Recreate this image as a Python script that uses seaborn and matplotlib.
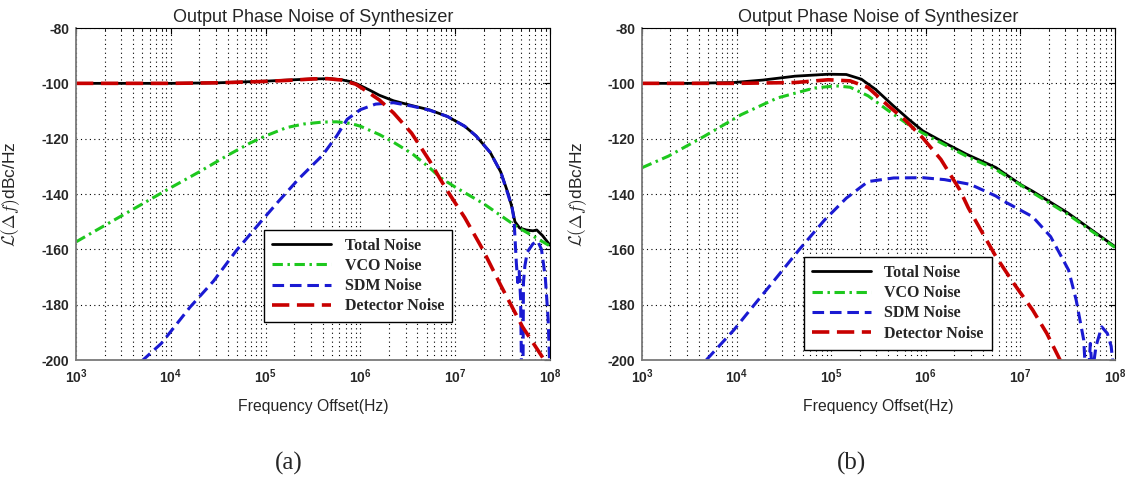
import numpy as np
import matplotlib
matplotlib.use("Agg")
import matplotlib.pyplot as plt
import seaborn as sns
from matplotlib.ticker import FixedLocator, FixedFormatter, LogLocator, NullFormatter

# ==========================================================
#   DATA, x given as log10(offset/Hz)
# ==========================================================
# ---- panel (a) ----
A_TOTAL_LOGF = [3.0, 4.0, 4.5, 5.0, 5.3, 5.5, 5.67, 5.8, 5.9, 5.97, 6.1, 6.2, 6.35, 6.54,
                6.73, 6.92, 7.1, 7.22, 7.37, 7.48, 7.56, 7.6, 7.63, 7.68, 7.75, 7.82,
                7.86, 7.92, 8.0]
A_TOTAL_DB = [-100, -100, -99.8, -99.2, -98.7, -98.4, -98.3, -98.7, -99.4, -100.3, -102.5,
              -104.3, -106.3, -108, -109.6, -112, -115.5, -119, -125, -132, -140, -145,
              -150, -152.3, -153, -153.3, -153, -155, -158.5]

A_VCO_LOGF = [3.0, 3.5, 3.78, 4.0, 4.31, 4.6, 4.84, 5.0, 5.22, 5.4, 5.6, 5.75, 5.9, 6.0,
              6.2, 6.35, 6.55, 6.73, 6.84, 7.0, 7.3, 7.65, 8.0]
A_VCO_DB = [-157.3, -147.5, -142, -137.7, -131.8, -126, -121.5, -119, -116, -114.7, -114,
            -113.9, -114.5, -115.5, -118.5, -121.3, -125.5, -130.5, -134, -137.5, -143.5,
            -151.8, -158.8]

A_SDM_LOGF = [3.69, 3.9, 4.2, 4.45, 4.69, 4.95, 5.14, 5.35, 5.6, 5.75, 5.86, 6.0, 6.16,
              6.35, 6.54, 6.73, 6.92, 7.1, 7.22, 7.37, 7.48, 7.56, 7.6, 7.62, 7.645, 7.66,
              7.675, 7.69, 7.70, 7.715, 7.72, 7.735, 7.76, 7.82, 7.87, 7.91, 7.95, 7.98, 8.0]
A_SDM_DB = [-200.5, -194, -181, -171.5, -160.5, -150, -142.5, -134.5, -126, -119, -113,
            -109.5, -107.5, -107, -108.2, -109.7, -112, -115.5, -119, -125, -132, -140.5,
            -145, -149, -165, -172, -168, -178, -205, -205, -172, -166, -161, -158, -157,
            -160, -170, -185, -205]

A_DET_LOGF = [3.0, 4.0, 4.5, 5.0, 5.3, 5.5, 5.65, 5.8, 5.95, 6.05, 6.2, 6.35, 6.54, 6.73,
              6.84, 6.92, 7.1, 7.29, 7.48, 7.71, 7.94, 8.0]
A_DET_DB = [-100, -100, -99.8, -99.3, -98.8, -98.4, -98.3, -98.8, -100.3, -102.5, -106,
            -110.7, -118, -128, -134.5, -139, -148.5, -160, -173, -188, -200, -203]

# ---- panel (b) ----
B_TOTAL_LOGF = [3.0, 3.5, 3.97, 4.28, 4.62, 4.97, 5.16, 5.32, 5.47, 5.66, 5.82, 5.97, 6.2,
                6.43, 6.74, 7.0, 7.13, 7.5, 8.0]
B_TOTAL_DB = [-100, -100, -99.7, -98.8, -97.4, -96.7, -96.8, -98.5, -102.2, -108.2, -113,
              -117.2, -121.5, -125.6, -130.4, -136.5, -139, -146.8, -159]

B_VCO_LOGF = [3.0, 3.28, 3.66, 4.05, 4.43, 4.82, 5.05, 5.2, 5.39, 5.59, 5.82, 5.97, 6.2,
              6.43, 6.74, 7.13, 7.5, 8.0]
B_VCO_DB = [-130.5, -126.3, -119.1, -111.3, -105.3, -101.7, -100.9, -101.4, -104.5, -109.5,
            -115, -118, -122.2, -126.3, -131.1, -139.5, -147.3, -159.3]

B_SDM_LOGF = [3.68, 3.97, 4.2, 4.43, 4.66, 4.93, 5.16, 5.39, 5.66, 5.97, 6.2, 6.47, 6.74,
              6.82, 7.13, 7.32, 7.51, 7.59, 7.67, 7.69, 7.72, 7.74, 7.76, 7.80, 7.86, 7.92,
              7.96, 7.99]
B_SDM_DB = [-200, -189.2, -179.5, -169.9, -160.2, -149.4, -141.5, -135.5, -134.2, -134.1,
            -134.8, -136.5, -140.7, -142.5, -148.2, -155.4, -167.5, -178.3, -192.8, -205,
            -205, -194, -205, -195, -188, -190.4, -195, -205]

B_DET_LOGF = [3.0, 4.0, 4.62, 4.97, 5.2, 5.39, 5.59, 5.78, 5.97, 6.16, 6.36, 6.45, 6.59,
              6.74, 6.93, 7.13, 7.28, 7.42, 7.5]
B_DET_DB = [-100, -100, -99.7, -98.7, -99.1, -101.5, -107.7, -113.2, -119.8, -127.5,
            -138.5, -145, -153.5, -162.5, -172.3, -181.9, -190.4, -200, -205]

SERIES_NAMES = ["Total Noise", "VCO Noise", "SDM Noise", "Detector Noise"]
Y_TICKS = [-200, -180, -160, -140, -120, -100, -80]
X_EXPONENTS = [3, 4, 5, 6, 7, 8]
TITLE = "Output Phase Noise of Synthesizer"

# ==========================================================
#                       STYLE
# ==========================================================
sns.set_theme(style="white")
plt.rcParams["font.family"] = ["Liberation Sans", "DejaVu Sans"]
plt.rcParams["mathtext.fontset"] = "custom"
plt.rcParams["mathtext.bf"] = "Liberation Sans:bold"
plt.rcParams["mathtext.rm"] = "Liberation Sans"

LINE_STYLES = [
    dict(color="black", linewidth=2.0, linestyle="-"),
    dict(color="#1ec81e", linewidth=2.2, linestyle=(0, (3.4, 1.5, 0.8, 1.5))),
    dict(color="#1a1ad2", linewidth=2.2, linestyle=(0, (3.8, 1.9))),
    dict(color="#c80000", linewidth=2.6, linestyle=(0, (4.8, 2.1))),
]


def draw_panel(ax, curves, legend_anchor, ylabel_x):
    for (logf, db), name, style in zip(curves, SERIES_NAMES, LINE_STYLES):
        sns.lineplot(x=10.0 ** np.array(logf), y=np.array(db), ax=ax, label=name,
                     legend=False, sort=False, estimator=None, **style)

    ax.set_xscale("log")
    ax.set_xlim(1e3, 1e8)
    ax.set_ylim(-200, -80)

    ax.xaxis.set_major_locator(FixedLocator([10.0 ** e for e in X_EXPONENTS]))
    ax.xaxis.set_major_formatter(FixedFormatter([r"$\mathbf{10^{%d}}$" % e for e in X_EXPONENTS]))
    ax.xaxis.set_minor_locator(LogLocator(base=10, subs=np.arange(2, 10)))
    ax.xaxis.set_minor_formatter(NullFormatter())
    ax.set_yticks(Y_TICKS)
    ax.set_yticklabels([str(v) for v in Y_TICKS], fontweight="bold")

    ax.tick_params(which="both", direction="in", top=True, right=True,
                   labelsize=10, color="black", pad=5)
    ax.tick_params(which="major", length=4, width=0.8)
    ax.tick_params(which="minor", length=2, width=0.6)

    grid_kw = dict(color="black", linewidth=0.8, linestyle=(0, (1, 3)))
    ax.grid(True, which="major", axis="both", **grid_kw)
    ax.grid(True, which="minor", axis="x", **grid_kw)

    for side in ["left", "bottom"]:
        ax.spines[side].set_color("#7a7a7a")
        ax.spines[side].set_linewidth(1.3)
    for side in ["top", "right"]:
        ax.spines[side].set_color("black")
        ax.spines[side].set_linewidth(0.8)

    ax.set_title(TITLE, fontsize=13, pad=4)
    ax.set_xlabel("Frequency Offset(Hz)", fontsize=11.3)
    ax.xaxis.set_label_coords(0.5, -0.117)
    ax.set_ylabel(r"$\mathcal{L}(\Delta f)$dBc/Hz", fontsize=12.5, math_fontfamily="cm")
    ax.yaxis.set_label_coords(ylabel_x, 0.5)

    leg = ax.legend(loc="upper left", bbox_to_anchor=legend_anchor, borderaxespad=0,
                    prop={"family": "Liberation Serif", "weight": "bold", "size": 11.5},
                    handlelength=3.7, handletextpad=0.85, labelspacing=0.26,
                    borderpad=0.5, fancybox=False, framealpha=1, edgecolor="black")
    leg.get_frame().set_linewidth(1.0)


fig = plt.figure(figsize=(11.31, 4.79), dpi=100)
fig.patch.set_facecolor("white")
ax_a = fig.add_axes([0.0672, 0.2484, 0.4191, 0.6931])
ax_b = fig.add_axes([0.5676, 0.2484, 0.4182, 0.6931])

curves_a = [(A_TOTAL_LOGF, A_TOTAL_DB), (A_VCO_LOGF, A_VCO_DB),
            (A_SDM_LOGF, A_SDM_DB), (A_DET_LOGF, A_DET_DB)]
curves_b = [(B_TOTAL_LOGF, B_TOTAL_DB), (B_VCO_LOGF, B_VCO_DB),
            (B_SDM_LOGF, B_SDM_DB), (B_DET_LOGF, B_DET_DB)]

draw_panel(ax_a, curves_a, (0.397, 0.392), -0.113)
draw_panel(ax_b, curves_b, (0.342, 0.31), -0.112)

fig.text(289 / 1131, 1 - 463 / 479, "(a)", ha="center", va="center",
         family="Liberation Serif", fontsize=18)
fig.text(852 / 1131, 1 - 463 / 479, "(b)", ha="center", va="center",
         family="Liberation Serif", fontsize=18)

fig.savefig("out.png", dpi=100, facecolor="white")
plt.close(fig)
